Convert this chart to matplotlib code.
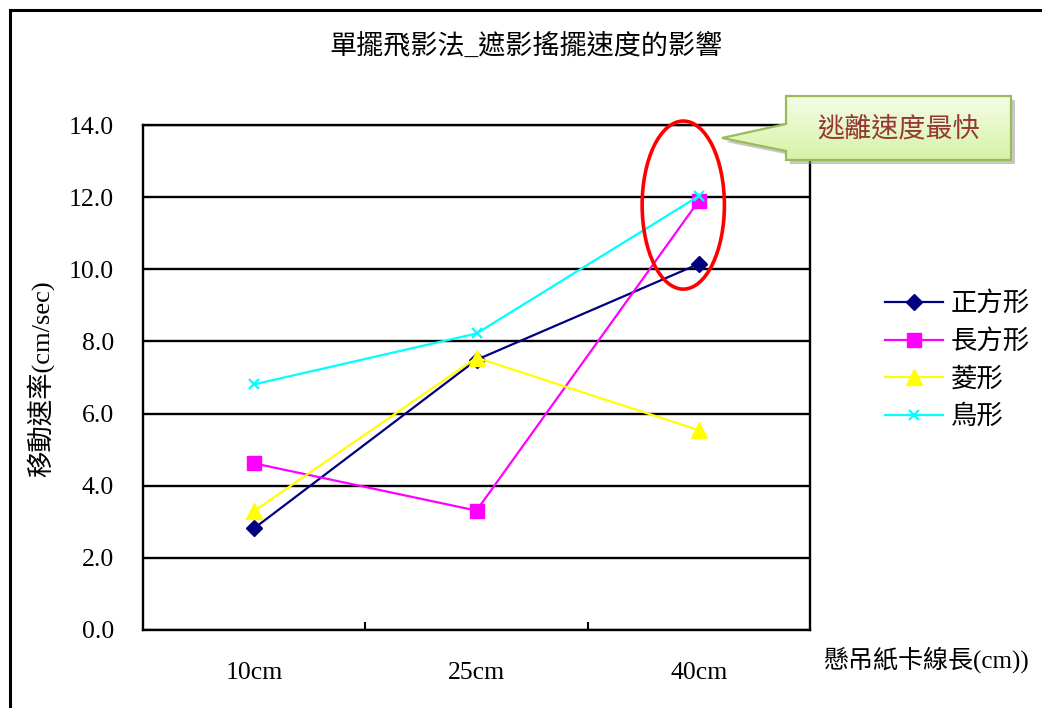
import numpy as np
import matplotlib
matplotlib.use("Agg")
import matplotlib.pyplot as plt
from matplotlib.patches import Ellipse, Polygon
from matplotlib.lines import Line2D

plt.rcParams['font.family'] = ['Liberation Serif', 'Noto Sans CJK TC', 'DejaVu Sans']

# --- data -------------------------------------------------------------
categories = ["10cm", "25cm", "40cm"]
square = [2.82, 7.49, 10.15]       # 正方形
rectangle = [4.62, 3.31, 11.90]    # 長方形
rhombus = [3.30, 7.55, 5.54]       # 菱形
bird = [6.81, 8.22, 12.03]         # 鳥形
series_names = ["正方形", "長方形", "菱形", "鳥形"]
y_ticks = [0, 2, 4, 6, 8, 10, 12, 14]

title = "單擺飛影法_遮影搖擺速度的影響"
y_label = "移動速率(cm/sec)"
x_label = "懸吊紙卡線長(cm))"
callout_text = "逃離速度最快"

W, H = 1042, 708
fig = plt.figure(figsize=(W / 100, H / 100), dpi=100)
fig.patch.set_facecolor("white")

def fx(px):
    return px / W

def fy(py):
    return 1 - py / H

ax = fig.add_axes([fx(143), fy(630), fx(810) - fx(143), fy(125) - fy(630)])

x = np.arange(len(categories))
styles = [
    (square, "#000080", "D", 8, 1.0),
    (rectangle, "#FF00FF", "s", 9.5, 1.0),
    (rhombus, "#FFFF00", "^", 11, 1.0),
    (bird, "#00FFFF", "x", 7.5, 1.6),
]
handles = []
for (vals, col, mk, ms, mew), name in zip(styles, series_names):
    h, = ax.plot(x, vals, color=col, lw=1.6, marker=mk, markersize=ms,
                 markerfacecolor=col, markeredgecolor=col, markeredgewidth=mew,
                 label=name, zorder=3)
    handles.append(h)

ax.set_xlim(-0.5, len(categories) - 0.5)
ax.set_ylim(0, 14)
ax.set_yticks(y_ticks)
ax.set_yticklabels([f"{v:.1f}" for v in y_ticks], fontsize=18.5)
ax.tick_params(axis="y", length=0, pad=21)
ax.yaxis.grid(True, color="black", lw=1.7)
ax.set_axisbelow(True)

# category labels centred, tick marks on the boundaries between categories
ax.set_xticks(np.arange(0.5, len(categories) - 0.5, 1.0))
ax.set_xticklabels([])
ax.tick_params(axis="x", which="major", direction="in", length=6, width=1.5)
ax.set_xticks(x, minor=True)
ax.set_xticklabels(categories, minor=True, fontsize=18.5)
ax.tick_params(axis="x", which="minor", length=0, pad=23)

for s in ax.spines.values():
    s.set_color("black")
    s.set_linewidth(1.7)

# highlight ring around the fastest results
ring = Ellipse((1.93, 11.78), 0.37, 4.66, fill=False, edgecolor="#FF0000",
               lw=2.6, zorder=5, clip_on=False)
ax.add_patch(ring)

fig.text(fx(526), fy(47), title, ha="center", va="center", fontsize=19.5)
fig.text(fx(40), fy(379), y_label, ha="center", va="center", rotation=90,
         fontsize=19)
fig.text(fx(823), fy(660), x_label, ha="left", va="center", fontsize=18)

leg = fig.legend(handles=handles, loc="center left",
                 bbox_to_anchor=(fx(885), fy(360)), frameon=False,
                 fontsize=19, handlelength=2.2, handletextpad=0.3,
                 labelspacing=0.5, borderpad=0, borderaxespad=0)

# overlay in pixel coordinates for the frame and the callout
ov = fig.add_axes([0, 0, 1, 1], zorder=10)
ov.set_xlim(0, W)
ov.set_ylim(H, 0)
ov.axis("off")
ov.patch.set_alpha(0)

ov.add_line(Line2D([10, 10], [10, H + 5], color="black", lw=2.2))
ov.add_line(Line2D([10, W + 5], [10, 10], color="black", lw=2.2))

pts = np.array([(786, 96), (1011, 96), (1011, 160), (786, 160),
                (786, 151), (722, 138), (786, 124)])
shadow = Polygon(pts + np.array([4, 4]), closed=True, facecolor="#9a9a9a",
                 edgecolor="none", alpha=0.55)
ov.add_patch(shadow)
box = Polygon(pts, closed=True, facecolor="none", edgecolor="#9BBB59", lw=1.6)
ov.add_patch(box)
grad = np.linspace(0, 1, 64).reshape(-1, 1)
top = np.array([0.96, 0.99, 0.90])
bot = np.array([0.84, 0.95, 0.66])
img = top + (bot - top) * grad[:, :, None]
im = ov.imshow(img, extent=(722, 1011, 160, 96), aspect="auto",
               interpolation="bilinear", zorder=1)
im.set_clip_path(box)
box.set_zorder(2)
ov.text(899, 130, callout_text, ha="center", va="center", fontsize=19.5,
        color="#953735", zorder=3)

fig.savefig("out.png", dpi=100)
